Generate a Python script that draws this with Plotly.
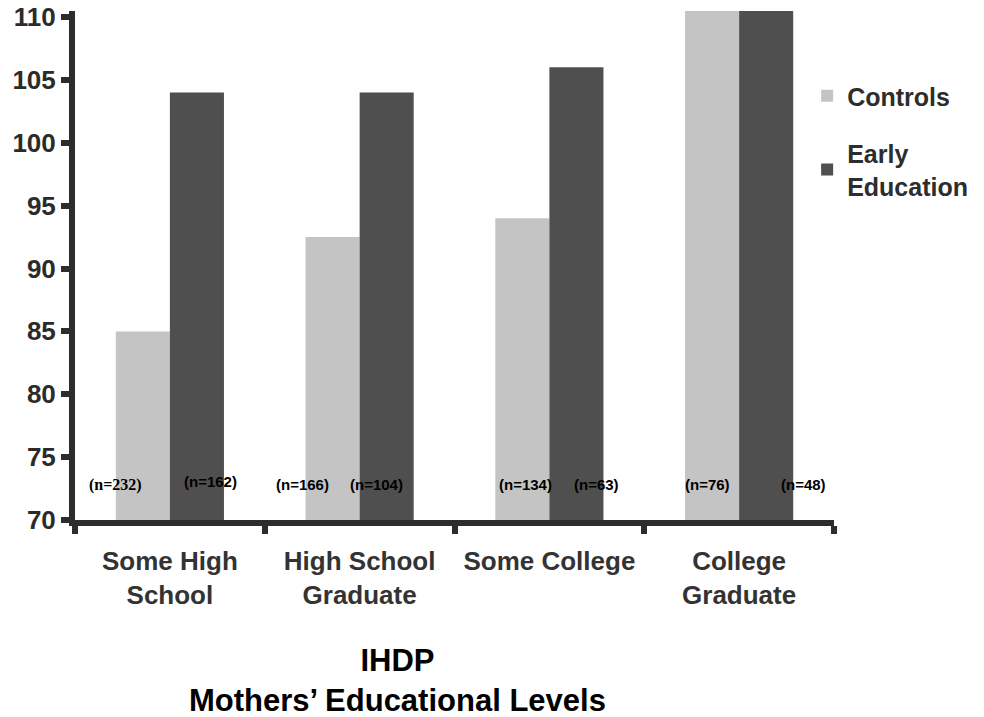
import plotly.graph_objects as go

# IHDP outcome scores by mother's education
categories = ["Some High<br>School", "High School<br>Graduate", "Some College", "College<br>Graduate"]
controls = [85, 92.5, 94, 112]
early_education = [104, 104, 106, 112]
n_controls = ["(n=232)", "(n=166)", "(n=134)", "(n=76)"]
n_early = ["(n=162)", "(n=104)", "(n=63)", "(n=48)"]
y_ticks = [70, 75, 80, 85, 90, 95, 100, 105, 110]

# horizontal offsets (px from group centre) for the sample-size labels
off_controls = [-54, -57, -24, -32]
off_early = [41, 17, 47, 64]

FONT = "Liberation Sans, Arial, Helvetica, sans-serif"
AXIS_COLOR = "#2d2d2d"

fig = go.Figure()
fig.add_trace(go.Bar(x=categories, y=controls, name="Controls",
                     marker=dict(color="#c4c4c4", line=dict(width=0)),
                     legendgroup="c"))
fig.add_trace(go.Bar(x=categories, y=early_education, name="Early<br>Education",
                     marker=dict(color="#4f4f4f", line=dict(width=0)),
                     legendgroup="e"))

annotations = []
for i, cat in enumerate(categories):
    annotations.append(dict(
        x=cat, y=72.8, xref="x", yref="y", text=n_controls[i], showarrow=False,
        xshift=off_controls[i],
        font=dict(family="Liberation Serif, Times New Roman, serif" if i == 0 else FONT,
                  size=16 if i == 0 else 15, color="black", weight="bold")))
    annotations.append(dict(
        x=cat, y=72.8, xref="x", yref="y", text=n_early[i], showarrow=False,
        xshift=off_early[i], yshift=3 if i == 0 else 0,
        font=dict(family=FONT, size=15, color="black", weight="bold")))

annotations.append(dict(
    x=0.425, y=-0.237, xref="paper", yref="paper", xanchor="center", yanchor="top",
    text="IHDP<br>Mothers\u2019 Educational Levels", showarrow=False,
    font=dict(family=FONT, size=31, color="black", weight="bold")))

fig.update_layout(
    width=984, height=717,
    margin=dict(l=75, r=147, t=11, b=197),
    paper_bgcolor="white", plot_bgcolor="white",
    barmode="group", bargap=0.43, bargroupgap=0,
    showlegend=True,
    legend=dict(x=0.9646, y=0.878, xanchor="left", yanchor="top",
                font=dict(family=FONT, size=25, color=AXIS_COLOR, weight="bold"),
                tracegroupgap=22, bgcolor="rgba(0,0,0,0)"),
    annotations=annotations,
    xaxis=dict(
        type="category", tickson="boundaries", automargin=False,
        showline=True, linecolor=AXIS_COLOR, linewidth=6,
        ticks="outside", ticklen=8, tickwidth=6, tickcolor=AXIS_COLOR,
        ticklabelstandoff=13,
        tickfont=dict(family=FONT, size=26, color="#333333", weight="bold"),
        showgrid=False, zeroline=False,
    ),
    yaxis=dict(
        range=[70, 110.48], tickvals=y_ticks, automargin=False,
        showline=True, linecolor=AXIS_COLOR, linewidth=6,
        ticks="outside", ticklen=8, tickwidth=6, tickcolor=AXIS_COLOR,
        tickfont=dict(family=FONT, size=26, color="#2b2b2b", weight="bold"),
        showgrid=False, zeroline=False,
    ),
)

fig.write_html("out.html")
